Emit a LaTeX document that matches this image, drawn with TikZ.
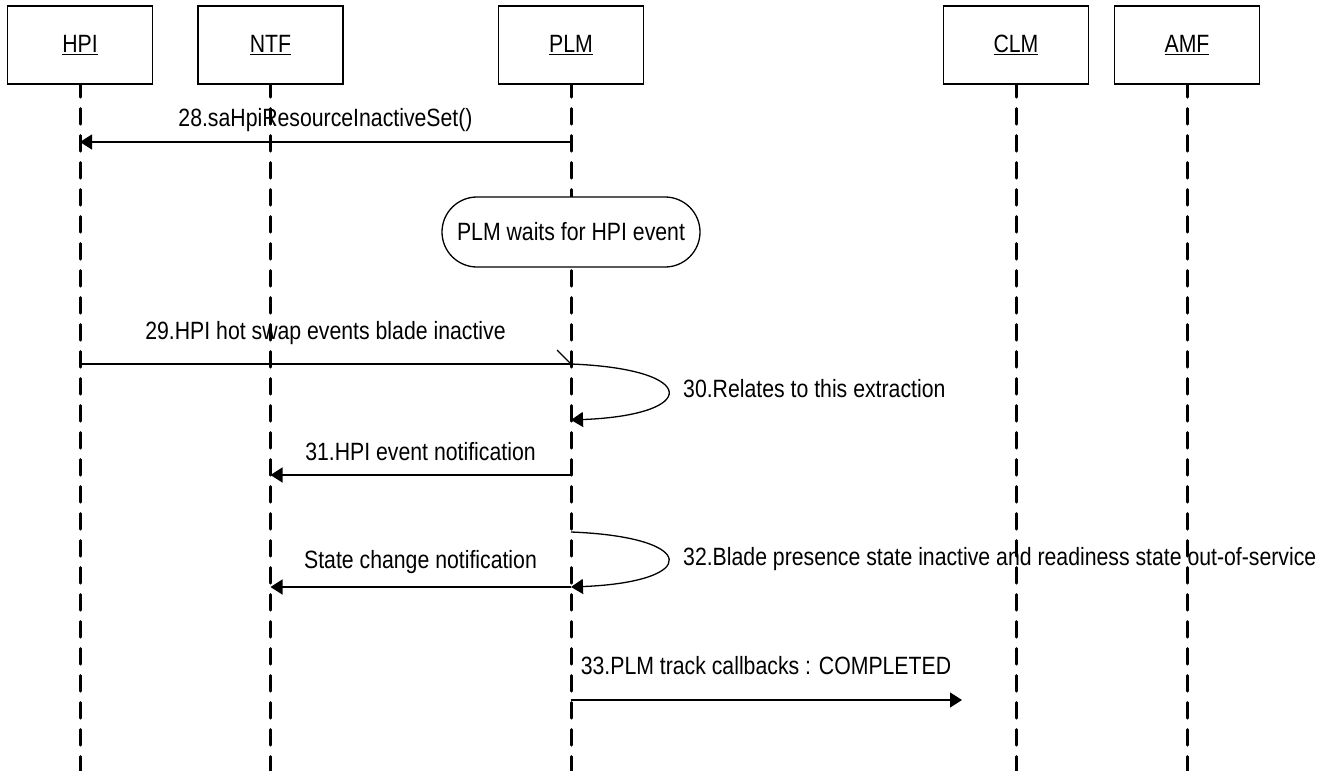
\documentclass[tikz,border=0pt]{standalone}
\usepackage{fontspec}
\setmainfont{Liberation Sans}[FakeStretch=0.85]
\usetikzlibrary{arrows.meta}
\begin{document}
\begin{tikzpicture}[x=1pt,y=-1pt,
  every node/.style={font=\fontsize{25}{29}\selectfont},
  head/.style={draw,line width=1.3pt,fill=white,minimum width=145pt,minimum height=78pt,inner sep=0pt},
  lifeline/.style={line width=3pt,line cap=round,dash pattern=on 15.5pt off 11.5pt,dash phase=3pt},
  msg/.style={line width=1.3pt,-{Triangle[length=12pt,width=15pt]}},
  plainmsg/.style={line width=1.3pt},
  lbl/.style={inner sep=0pt,anchor=center},
  statebox/.style={draw,line width=1.3pt,fill=white,rounded corners=35pt,minimum width=258pt,minimum height=70pt,inner sep=0pt}
]
% canvas
\fill[white] (0,0) rectangle (1331,771);
\useasboundingbox (0,0) rectangle (1331,771);
\coordinate (bot) at (0,771);

% object heads
\node[head] (hpi) at (80,45)   {\underline{HPI}};
\node[head] (ntf) at (270.5,45) {\underline{NTF}};
\node[head] (plm) at (571,45)  {\underline{PLM}};
\node[head] (clm) at (1016,45) {\underline{CLM}};
\node[head] (amf) at (1187,45) {\underline{AMF}};

% lifelines
\foreach \o in {hpi,ntf,plm,clm,amf}
  \draw[lifeline] (\o.south) -- (\o.south |- bot);

% redraw heads above the dash caps
\node[head] at (hpi) {\underline{HPI}};
\node[head] at (ntf) {\underline{NTF}};
\node[head] at (plm) {\underline{PLM}};
\node[head] at (clm) {\underline{CLM}};
\node[head] at (amf) {\underline{AMF}};

% 28
\draw[msg] (plm |- 0,142) -- (hpi |- 0,142);
\node[lbl] (l28) at (325.5,120) {28.saHpiResourceInactiveSet()};

% waiting state
\node[statebox] (wait) at (571,232) {PLM waits for HPI event};

% 29
\draw[plainmsg] (hpi |- 0,364) -- (plm |- 0,364);
\coordinate (tick) at (557,350);
\draw[plainmsg] (tick) -- (plm |- 0,364);
\node[lbl] (l29) at (325.5,333) {29.HPI hot swap events blade inactive};

% 30 self message
\draw[msg] (plm |- 0,364) .. controls (700,369) and (700,415) .. (plm |- 0,420);
\node[lbl,anchor=west] (l30) at (683,389) {30.Relates to this extraction};

% 31
\draw[msg] (plm |- 0,475) -- (ntf |- 0,475);
\node[lbl] (l31) at (420.5,452) {31.HPI event notification};

% 32 self message
\draw[msg] (plm |- 0,532) .. controls (700,537) and (700,582) .. (plm |- 0,587);
\node[lbl,anchor=west] (l32) at (683,559) {32.Blade presence state inactive and readiness state out-of-service};

% state change notification
\draw[msg] (plm |- 0,587) -- (ntf |- 0,587);
\node[lbl] (lsc) at (420.5,562) {State change notification};

% 33
\coordinate (e33) at (962,700);
\draw[msg] (plm |- 0,700) -- (e33);
\node[lbl] (l33) at (766,666) {33.PLM track callbacks : COMPLETED};
\end{tikzpicture}
\end{document}
